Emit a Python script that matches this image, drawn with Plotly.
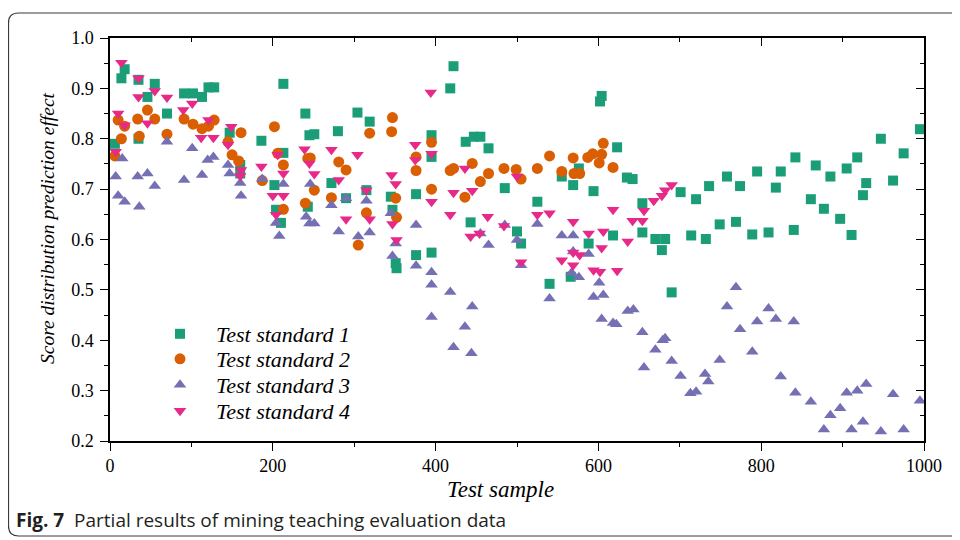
import plotly.graph_objects as go

# ---------------- data ----------------
x1 = [6, 14, 18, 35, 35, 46, 55, 70, 91, 102, 113, 121, 128, 147, 160, 160, 186, 202, 204, 210,
      213, 213, 240, 245, 243, 251, 272, 280, 290, 304, 319, 315, 345, 347, 351, 352, 376, 376, 395, 395,
      395, 418, 422, 437, 447, 455, 465, 485, 443, 500, 505, 525, 540, 555, 576, 569, 566, 588, 594, 602,
      604, 623, 618, 635, 642, 654, 654, 670, 682, 678, 690, 701, 714, 720, 732, 736, 749, 758, 769, 774,
      789, 795, 809, 818, 824, 840, 842, 861, 867, 877, 885, 897, 905, 911, 918, 925, 929, 947, 962, 975, 995]
y1 = [0.79, 0.92, 0.938, 0.917, 0.80, 0.883, 0.909, 0.85, 0.89, 0.89, 0.883, 0.902, 0.902, 0.812, 0.748, 0.731, 0.796, 0.708, 0.659, 0.633,
      0.772, 0.909, 0.85, 0.807, 0.665, 0.809, 0.712, 0.815, 0.682, 0.852, 0.834, 0.698, 0.685, 0.659, 0.553, 0.543, 0.69, 0.569, 0.807, 0.764,
      0.574, 0.90, 0.944, 0.794, 0.804, 0.804, 0.781, 0.702, 0.634, 0.616, 0.592, 0.675, 0.512, 0.725, 0.741, 0.708, 0.526, 0.592, 0.696, 0.874,
      0.885, 0.783, 0.608, 0.723, 0.72, 0.672, 0.614, 0.601, 0.601, 0.579, 0.495, 0.694, 0.608, 0.68, 0.601, 0.706, 0.63, 0.725, 0.635, 0.706,
      0.61, 0.735, 0.614, 0.703, 0.735, 0.619, 0.763, 0.68, 0.747, 0.661, 0.725, 0.641, 0.741, 0.609, 0.763, 0.688, 0.712, 0.80, 0.717, 0.771, 0.819]

x2 = [6, 10, 14, 18, 34, 36, 46, 55, 70, 91, 102, 113, 121, 128, 145, 150, 161, 158, 187, 202,
      206, 213, 213, 240, 243, 246, 251, 272, 281, 290, 305, 315, 319, 347, 346, 351, 352, 376, 376, 395,
      395, 418, 422, 436, 445, 455, 465, 484, 499, 505, 525, 540, 555, 569, 570, 577, 587, 593, 601, 604,
      606, 618]
y2 = [0.766, 0.837, 0.80, 0.825, 0.839, 0.805, 0.857, 0.839, 0.809, 0.839, 0.829, 0.82, 0.825, 0.837, 0.794, 0.768, 0.812, 0.756, 0.717, 0.824,
      0.771, 0.748, 0.66, 0.672, 0.761, 0.762, 0.698, 0.683, 0.754, 0.738, 0.589, 0.653, 0.811, 0.842, 0.814, 0.682, 0.644, 0.764, 0.737, 0.793,
      0.70, 0.737, 0.741, 0.684, 0.751, 0.715, 0.731, 0.741, 0.739, 0.72, 0.741, 0.766, 0.735, 0.762, 0.731, 0.731, 0.763, 0.77, 0.752, 0.769,
      0.791, 0.743]

x3 = [7, 10, 15, 18, 34, 36, 46, 55, 70, 91, 101, 113, 120, 127, 145, 147, 160, 161, 187, 204,
      208, 213, 241, 245, 246, 251, 272, 281, 290, 305, 315, 319, 345, 347, 351, 376, 376, 395, 395, 395,
      418, 422, 436, 444, 445, 455, 465, 485, 500, 505, 525, 540, 555, 569, 569, 567, 576, 588, 601, 594,
      606, 604, 618, 622, 636, 643, 654, 656, 670, 679, 682, 690, 701, 713, 720, 731, 735, 749, 758, 769,
      774, 789, 795, 809, 818, 824, 840, 842, 861, 867, 877, 885, 897, 905, 911, 918, 925, 929, 947, 962,
      975, 995]
y3 = [0.725, 0.687, 0.761, 0.675, 0.725, 0.665, 0.731, 0.706, 0.794, 0.718, 0.781, 0.728, 0.758, 0.764, 0.748, 0.731, 0.712, 0.687, 0.72, 0.633,
      0.607, 0.71, 0.645, 0.632, 0.71, 0.632, 0.668, 0.616, 0.682, 0.606, 0.677, 0.614, 0.652, 0.567, 0.592, 0.629, 0.548, 0.535, 0.51, 0.446,
      0.496, 0.386, 0.427, 0.374, 0.467, 0.612, 0.589, 0.629, 0.599, 0.549, 0.631, 0.483, 0.608, 0.608, 0.576, 0.534, 0.525, 0.571, 0.514, 0.486,
      0.49, 0.442, 0.434, 0.432, 0.458, 0.461, 0.416, 0.346, 0.381, 0.40, 0.404, 0.359, 0.329, 0.295, 0.298, 0.333, 0.318, 0.361, 0.467, 0.505,
      0.422, 0.377, 0.437, 0.463, 0.442, 0.328, 0.437, 0.296, 0.278, 0.19, 0.223, 0.251, 0.265, 0.296, 0.223, 0.30, 0.238, 0.313, 0.219, 0.293,
      0.223, 0.28]

x4 = [14, 10, 18, 7, 35, 35, 46, 55, 70, 90, 101, 112, 121, 127, 145, 149, 161, 160, 186, 206,
      213, 200, 213, 204, 239, 245, 251, 272, 281, 290, 304, 315, 319, 346, 351, 347, 352, 375, 375, 395,
      395, 394, 418, 422, 436, 445, 443, 454, 464, 484, 500, 505, 525, 540, 555, 569, 569, 577, 569, 588,
      604, 606, 594, 602, 623, 618, 636, 642, 654, 656, 668, 678, 682, 690]
y4 = [0.951, 0.85, 0.827, 0.774, 0.92, 0.883, 0.831, 0.895, 0.882, 0.857, 0.87, 0.802, 0.837, 0.802, 0.788, 0.824, 0.738, 0.726, 0.745, 0.768,
      0.731, 0.687, 0.687, 0.649, 0.779, 0.751, 0.73, 0.778, 0.718, 0.64, 0.768, 0.698, 0.64, 0.728, 0.71, 0.631, 0.599, 0.788, 0.758, 0.77,
      0.675, 0.892, 0.649, 0.693, 0.741, 0.697, 0.606, 0.612, 0.645, 0.627, 0.725, 0.555, 0.649, 0.652, 0.559, 0.635, 0.574, 0.569, 0.549, 0.612,
      0.583, 0.616, 0.539, 0.536, 0.538, 0.659, 0.596, 0.637, 0.637, 0.657, 0.677, 0.687, 0.698, 0.708]

series_names = ["Test standard 1", "Test standard 2", "Test standard 3", "Test standard 4"]
x_tick_vals = [0, 200, 400, 600, 800, 1000]
y_tick_vals = [0.2, 0.3, 0.4, 0.5, 0.6, 0.7, 0.8, 0.9, 1.0]
y_tick_text = ["0.2", "0.3", "0.4", "0.5", "0.6", "0.7", "0.8", "0.9", "1.0"]
x_title = "Test sample"
y_title = "Score distribution prediction effect"
caption = "<b>Fig. 7</b>\u00a0\u00a0Partial results of mining teaching evaluation data"

# ---------------- styling ----------------
colors = ["#1B9E77", "#D95F02", "#7570B3", "#E7298A"]
symbols = ["square", "circle", "triangle-up", "triangle-down"]
sizes = [10, 11, 11, 11]
SERIF = "Times New Roman, Liberation Serif, serif"

# page has an 8px body margin: figure coords = screen coords - 8
OFF = 8
W, H = 952, 532
L = 110 - OFF
T = 38 - OFF
R = W - (924 - OFF)
B = H - (441 - OFF)
PW, PH = W - L - R, H - T - B


def px_x(sx):
    return (sx - OFF - L) / PW


def px_y(sy):
    return (H - B - (sy - OFF)) / PH


legend_ids = ["legend", "legend2", "legend3", "legend4"]
legend_rows = [334, 359, 385, 411]   # screen y of each legend row

fig = go.Figure()
for xs, ys, name, c, s, sz, lg in zip([x1, x2, x3, x4], [y1, y2, y3, y4], series_names, colors, symbols, sizes, legend_ids):
    fig.add_trace(go.Scatter(
        x=xs, y=ys, name=name, mode="markers", legend=lg,
        marker=dict(color=c, symbol=s, size=sz, line=dict(width=0)),
        cliponaxis=False,
    ))

# dummy trace for mirrored (top/right) axes
fig.add_trace(go.Scatter(x=[None], y=[None], xaxis="x2", yaxis="y2", showlegend=False, hoverinfo="skip"))

axis_common = dict(showline=True, linecolor="black", linewidth=1.5, showgrid=False, zeroline=False,
                   tickcolor="black", tickwidth=1.2)

legend_style = dict(xanchor="left", yanchor="middle", bgcolor="rgba(0,0,0,0)",
                    font=dict(family=SERIF, size=22, color="black", style="italic"),
                    itemwidth=62, borderwidth=0)

layout_legends = {}
for lg, row in zip(legend_ids, legend_rows):
    layout_legends[lg] = dict(x=px_x(144), y=px_y(row), **legend_style)

fig.update_layout(
    width=W, height=H,
    margin=dict(l=L, r=R, t=T, b=B),
    paper_bgcolor="white", plot_bgcolor="white",
    xaxis=dict(range=[0, 1000], tickvals=x_tick_vals, ticks="outside", ticklen=8,
               minor=dict(dtick=100, ticks="outside", ticklen=4, tickcolor="black", tickwidth=1.2),
               tickfont=dict(family=SERIF, size=18, color="black"),
               **axis_common),
    yaxis=dict(range=[0.2, 1.0], tickvals=y_tick_vals, ticktext=y_tick_text, ticks="outside", ticklen=8,
               minor=dict(dtick=0.05, ticks="outside", ticklen=4, tickcolor="black", tickwidth=1.2),
               tickfont=dict(family=SERIF, size=18, color="black"), ticklabelstandoff=3,
               **axis_common),
    xaxis2=dict(range=[0, 1000], overlaying="x", side="top", anchor="y2", tickvals=x_tick_vals, ticks="inside", ticklen=8,
                minor=dict(dtick=100, ticks="inside", ticklen=4, tickcolor="black", tickwidth=1.2),
                showticklabels=False, **axis_common),
    yaxis2=dict(range=[0.2, 1.0], overlaying="y", side="right", anchor="x2", tickvals=y_tick_vals, ticks="inside", ticklen=8,
                minor=dict(dtick=0.05, ticks="inside", ticklen=4, tickcolor="black", tickwidth=1.2),
                showticklabels=False, **axis_common),
    showlegend=True,
    **layout_legends,
)

# axis titles
fig.add_annotation(text=x_title, xref="paper", yref="paper", x=px_x(500), y=px_y(490),
                   xanchor="center", yanchor="middle", showarrow=False,
                   font=dict(family=SERIF, size=23, color="black", style="italic"))
fig.add_annotation(text=y_title, xref="paper", yref="paper", x=px_x(47), y=px_y(228),
                   xanchor="center", yanchor="middle", showarrow=False, textangle=-90,
                   font=dict(family=SERIF, size=19.5, color="black", style="italic"))

# rounded outer frame (right side runs off the canvas)
lx = px_x(8.5)
rx = px_x(975)
ty = px_y(13)
by = px_y(536)
cx = 10 / PW
cy = 10 / PH
path = (f"M {rx},{ty} L {lx + cx},{ty} Q {lx},{ty} {lx},{ty - cy} "
        f"L {lx},{by + cy} Q {lx},{by} {lx + cx},{by} L {rx},{by}")
fig.add_shape(type="path", path=path, xref="paper", yref="paper", line=dict(color="#3a3a3a", width=1.2), layer="below")

fig.add_annotation(
    text=caption, xref="paper", yref="paper", x=px_x(14), y=px_y(520), xanchor="left", yanchor="middle",
    showarrow=False, font=dict(family="Open Sans", size=19, color="#231f20"),
)

fig.write_html("out.html")
